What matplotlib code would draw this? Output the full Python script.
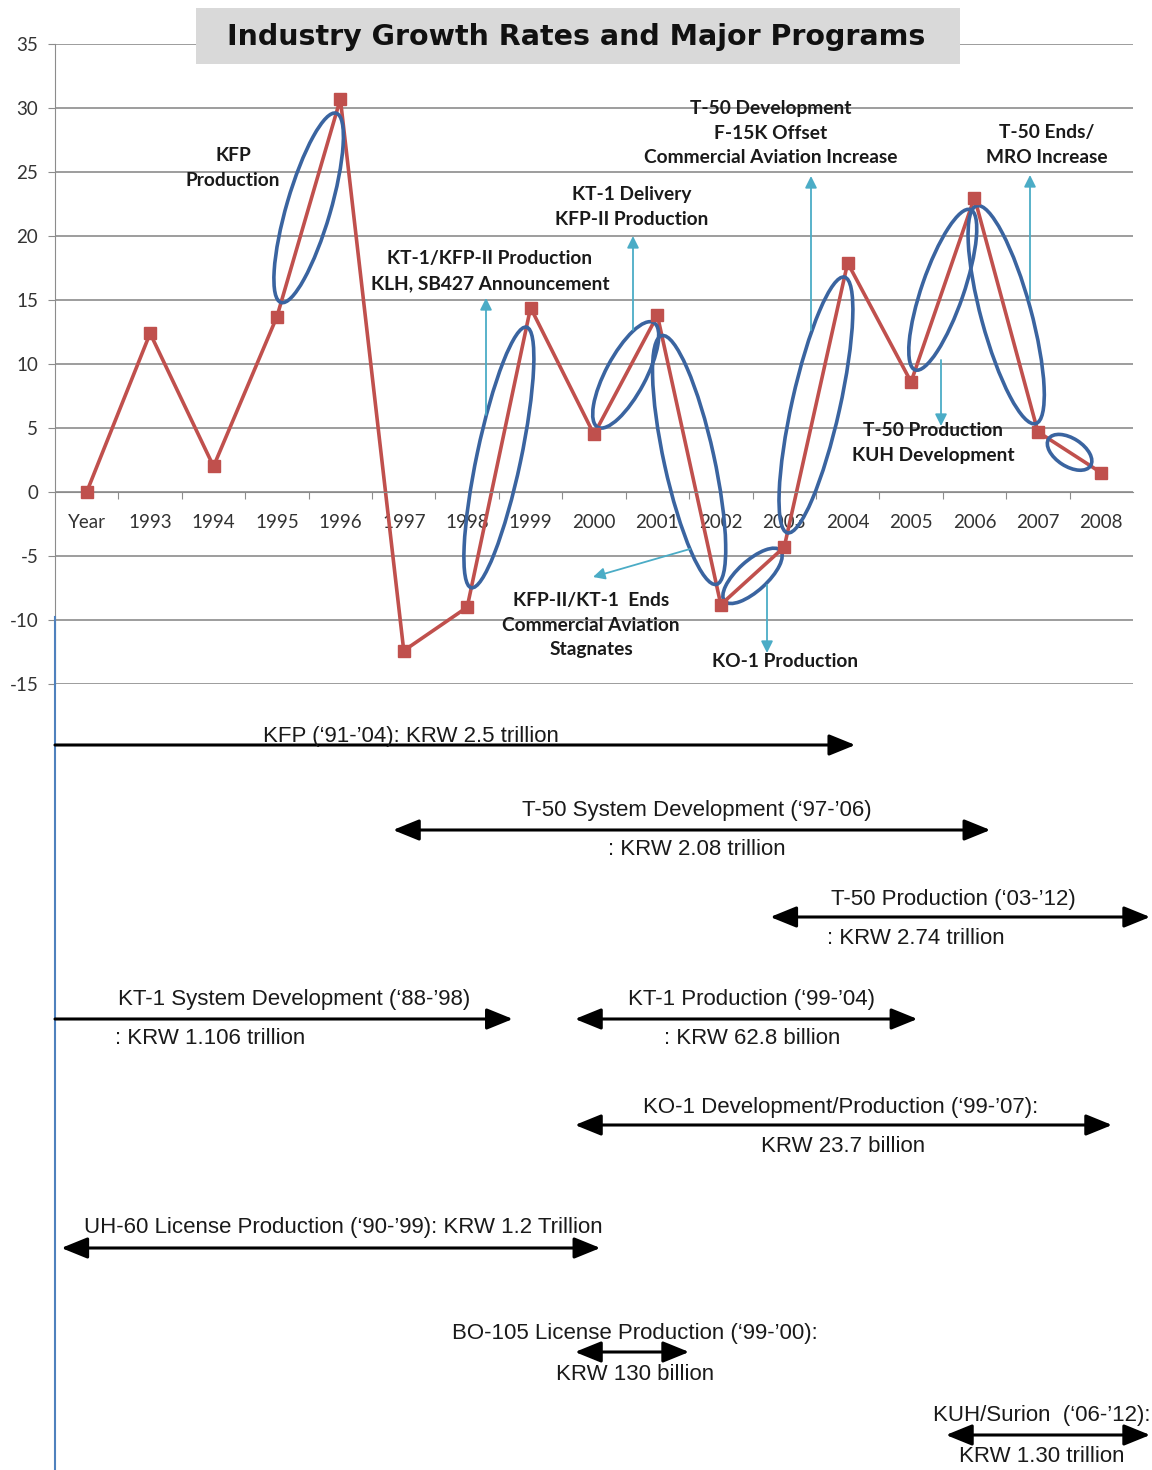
import matplotlib.pyplot as plt
import numpy as np
from matplotlib.patches import Ellipse, FancyArrowPatch, Rectangle

plt.rcParams['axes.unicode_minus'] = False

# industry growth rate (%) by year
categories = ['Year', '1993', '1994', '1995', '1996', '1997', '1998', '1999', '2000',
              '2001', '2002', '2003', '2004', '2005', '2006', '2007', '2008']
growth = [0, 12.4, 2.0, 13.7, 30.7, -12.4, -9.0, 14.4, 4.5,
          13.8, -8.8, -4.3, 17.9, 8.6, 23.0, 4.7, 1.5]

# segments circled in blue
circle_from = ['1995', '1998', '2000', '2001', '2002', '2003', '2005', '2006', '2007']
circle_to = ['1996', '1999', '2001', '2002', '2003', '2004', '2006', '2007', '2008']

# callout texts
callouts = ['KFP\nProduction',
            'KT-1/KFP-II Production\nKLH, SB427 Announcement',
            'KT-1 Delivery\nKFP-II Production',
            'T-50 Development\nF-15K Offset\nCommercial Aviation Increase',
            'T-50 Ends/\nMRO Increase',
            'T-50 Production\nKUH Development',
            'KFP-II/KT-1  Ends\nCommercial Aviation\nStagnates',
            'KO-1 Production']

# major programs (span)
prog_title = ['KFP (\u201891-\u201904): KRW 2.5 trillion',
              'T-50 System Development (\u201897-\u201906)',
              'T-50 Production (\u201803-\u201912)',
              'KT-1 System Development (\u201888-\u201998)',
              'KT-1 Production (\u201899-\u201904)',
              'KO-1 Development/Production (\u201899-\u201907):',
              'UH-60 License Production (\u201890-\u201999): KRW 1.2 Trillion',
              'BO-105 License Production (\u201899-\u201900):',
              'KUH/Surion  (\u201806-\u201912):']
prog_cost = ['', ': KRW 2.08 trillion', ': KRW 2.74 trillion', ': KRW 1.106 trillion',
             ': KRW 62.8 billion', 'KRW 23.7 billion', '', 'KRW 130 billion',
             'KRW 1.30 trillion']
prog_start = [1991.5, 1996.83, 2002.78, 1991.5, 1999.7, 1999.7, 1991.6, 1999.7, 2005.55]
prog_end = [2004.12, 2006.25, 2008.77, 1998.72, 2005.1, 2008.17, 2000.1, 2001.5, 2008.77]
prog_open_start = [True, False, False, True, False, False, False, False, False]

W, H = 1152, 1470
fig = plt.figure(figsize=(W / 100, H / 100), dpi=100)
fig.patch.set_facecolor('white')

# chart axes
ax = fig.add_axes([55 / W, 1 - 684 / H, 1078 / W, 640 / H])
x = np.arange(len(categories))
ax.set_xlim(-0.5, len(categories) - 0.5)
ax.set_ylim(-15, 35)
ax.set_yticks(np.arange(-15, 36, 5))
ax.grid(axis='y', color='#8c8c8c', lw=1.2)
ax.set_axisbelow(True)
for s in ['top', 'right']:
    ax.spines[s].set_visible(False)
ax.spines['left'].set_color('#8c8c8c')
ax.spines['bottom'].set_color('#8c8c8c')
ax.spines['bottom'].set_position(('data', 0))
ax.tick_params(axis='y', length=5, color='#8c8c8c', labelsize=13.5, labelcolor='#333333', pad=7)
ax.set_xticks(x[:-1] + 0.5)
ax.set_xticklabels([])
ax.set_xticks(x, minor=True)
ax.set_xticklabels(categories, minor=True)
ax.tick_params(axis='x', which='major', length=5, color='#8c8c8c', direction='out')
ax.tick_params(axis='x', which='minor', length=0, labelsize=13.5, labelcolor='#333333', pad=16)
for lab in ax.get_xticklabels(minor=True) + ax.get_yticklabels():
    lab.set_fontfamily('Lato')

red = '#C0504D'
ax.plot(x, growth, color=red, lw=2.6, zorder=2, clip_on=False)
ax.plot(x, growth, 's', color=red, ms=9, zorder=4, clip_on=False)

# overlay in image pixel coordinates for annotations
ov = fig.add_axes([0, 0, 1, 1])
ov.set_xlim(0, W)
ov.set_ylim(H, 0)
ov.axis('off')
ov.patch.set_visible(False)


def to_px(xv, yv):
    return ov.transData.inverted().transform(ax.transData.transform((xv, yv)))


# blue ellipses around segments
minor_axis = [44, 44, 40, 50, 30, 48, 42, 50, 28]
major_frac = [0.87, 0.87, 0.88, 0.86, 0.88, 0.9, 0.87, 0.93, 0.66]
for a, b, mh, mf in zip(circle_from, circle_to, minor_axis, major_frac):
    i, j = categories.index(a), categories.index(b)
    p0 = to_px(i, growth[i])
    p1 = to_px(j, growth[j])
    c = (p0 + p1) / 2
    d = p1 - p0
    L = np.hypot(*d)
    ang = np.degrees(np.arctan2(d[1], d[0]))
    e = Ellipse(c, L * mf, mh, angle=ang, fill=False, ec='#3A64A0', lw=2.6,
                transform=ov.transData, zorder=3, clip_on=False)
    ax.add_patch(e)

# title
ov.add_patch(Rectangle((196, 8), 764, 56, facecolor='#D9D9D9', edgecolor='none', zorder=5))
ov.text(576, 37, 'Industry Growth Rates and Major Programs', ha='center', va='center',
        fontsize=20.5, fontweight='bold', family='DejaVu Sans', color='#111111', zorder=6)

# callout texts and cyan arrows
callout_xy = [(233, 168), (490, 271), (632, 207), (771, 133), (1047, 145),
              (933, 443), (591, 625), (785, 661)]
for txt, (cx, cy) in zip(callouts, callout_xy):
    ov.text(cx, cy, txt, ha='center', va='center', fontsize=13.8, fontweight='bold',
            family='Lato', color='#1a1a1a', linespacing=1.57, zorder=6)

cyan = '#4BACC6'
cyan_arrows = [((486, 415), (486, 298)), ((633, 330), (633, 236)),
               ((811, 330), (811, 176)), ((1030, 300), (1030, 175)),
               ((941, 360), (941, 426)), ((690, 549), (593, 577)),
               ((767, 585), (767, 653))]
for (x0, y0), (x1, y1) in cyan_arrows:
    ov.add_patch(FancyArrowPatch((x0, y0), (x1, y1), arrowstyle='-|>,head_length=7,head_width=3.5',
                                 mutation_scale=1, color=cyan, lw=1.3, shrinkA=0, shrinkB=0, zorder=6))

# left axis continuation
ov.plot([55, 55], [617, H], color='#4F81BD', lw=1.5, zorder=1)

# program arrows
arrow_y = [745, 830, 917, 1019, 1019, 1125, 1248, 1352, 1435]
title_xy = [(411, 736), (697, 810), (953, 899), (294, 999), (751, 999),
            (841, 1108), (343, 1227), (635, 1333), (1042, 1415)]
cost_xy = [None, (697, 849), (916, 938), (210, 1038), (752, 1038),
           (843, 1146), None, (635, 1374), (1042, 1456)]
for k in range(len(prog_title)):
    xs = to_px(prog_start[k] - 1992, 0)[0]
    xe = to_px(prog_end[k] - 1992, 0)[0]
    y = arrow_y[k]
    style = '-|>' if prog_open_start[k] else '<|-|>'
    ov.add_patch(FancyArrowPatch((xs, y), (xe, y), arrowstyle=style + ',head_length=16,head_width=6.5',
                                 mutation_scale=1, color='black', lw=2.2, shrinkA=0, shrinkB=0,
                                 zorder=4, clip_on=False))
    tx, ty = title_xy[k]
    ov.text(tx, ty, prog_title[k], ha='center', va='center', fontsize=16,
            family='Liberation Sans', color='#1a1a1a', zorder=5)
    if cost_xy[k] is not None:
        tx, ty = cost_xy[k]
        ov.text(tx, ty, prog_cost[k], ha='center', va='center', fontsize=16,
                family='Liberation Sans', color='#1a1a1a', zorder=5)

fig.savefig('out.png', dpi=100, facecolor='white')
